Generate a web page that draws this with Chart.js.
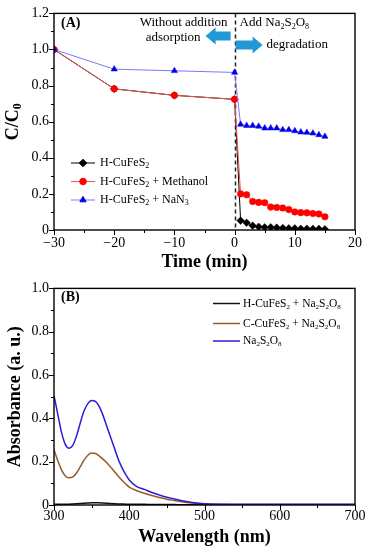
<!DOCTYPE html>
<html>
<head>
<meta charset="utf-8">
<script src="https://cdn.jsdelivr.net/npm/chart.js@4.4.1/dist/chart.umd.min.js"></script>
<style>
  body { margin: 0; background: #fff; }
  #wrap { position: relative; width: 370px; height: 550px; }
  canvas { position: absolute; left: 0; }
  #chartA { top: 0; }
  #chartB { top: 275px; }
</style>
</head>
<body>
<div id="wrap">
  <canvas id="chartA" width="370" height="275"></canvas>
  <canvas id="chartB" width="370" height="275"></canvas>
</div>
<script>
// --- (A) C/C0 vs time ---
const timeA = [-30, -20, -10, 0, 1, 2, 3, 4, 5, 6, 7, 8, 9, 10, 11, 12, 13, 14, 15];
const hCuFeS2 = [1.0, 0.782, 0.746, 0.724, 0.052, 0.040, 0.024, 0.018, 0.015, 0.015, 0.013, 0.011, 0.009, 0.009, 0.007, 0.007, 0.006, 0.006, 0.004];
const hCuFeS2Methanol = [1.0, 0.782, 0.746, 0.724, 0.200, 0.195, 0.158, 0.153, 0.151, 0.127, 0.125, 0.122, 0.113, 0.100, 0.096, 0.095, 0.091, 0.089, 0.073];
const hCuFeS2NaN3 = [1.0, 0.891, 0.882, 0.873, 0.585, 0.578, 0.578, 0.574, 0.564, 0.564, 0.564, 0.555, 0.555, 0.549, 0.542, 0.540, 0.536, 0.527, 0.518];
const labelsA = ['H-CuFeS_2', 'H-CuFeS_2 + Methanol', 'H-CuFeS_2 + NaN_3'];
const xTicksA = [-30, -20, -10, 0, 10, 20];
const yTicksA = [0, 0.2, 0.4, 0.6, 0.8, 1.0, 1.2];

// --- (B) UV-vis spectra ---
const wavelength = [300, 305, 310, 315, 320, 325, 330, 335, 340, 345, 350, 355, 360, 365, 370, 375, 380, 385, 390, 395, 400, 410, 420, 430, 440, 450, 460, 470, 480, 490, 500, 550, 600, 650, 700];
const hCuFeS2Pds = [0.003, 0.003, 0.003, 0.004, 0.004, 0.005, 0.006, 0.007, 0.008, 0.009, 0.010, 0.010, 0.010, 0.009, 0.008, 0.007, 0.006, 0.005, 0.005, 0.004, 0.004, 0.003, 0.003, 0.002, 0.002, 0.002, 0.002, 0.001, 0.001, 0.001, 0.001, 0.001, 0.001, 0.001, 0.001];
const cCuFeS2Pds = [0.255, 0.205, 0.162, 0.134, 0.126, 0.130, 0.148, 0.177, 0.207, 0.230, 0.240, 0.238, 0.227, 0.212, 0.196, 0.176, 0.156, 0.135, 0.115, 0.098, 0.083, 0.066, 0.054, 0.044, 0.035, 0.027, 0.021, 0.015, 0.010, 0.007, 0.004, 0.002, 0.002, 0.002, 0.002];
const pdsOnly = [0.505, 0.420, 0.335, 0.280, 0.262, 0.275, 0.320, 0.380, 0.435, 0.468, 0.482, 0.478, 0.455, 0.415, 0.365, 0.315, 0.265, 0.215, 0.175, 0.142, 0.115, 0.085, 0.072, 0.058, 0.046, 0.036, 0.028, 0.020, 0.014, 0.009, 0.006, 0.004, 0.004, 0.004, 0.004];
const labelsB = ['H-CuFeS_2 + Na_2S_2O_8', 'C-CuFeS_2 + Na_2S_2O_8', 'Na_2S_2O_8'];
const xTicksB = [300, 400, 500, 600, 700];
const yTicksB = [0, 0.2, 0.4, 0.6, 0.8, 1.0];

const FONT = '"Liberation Serif", "Times New Roman", serif';

// texto com subscrito: "_2" vira 2 pequeno
function richText(ctx, str, x, y, size, bold, align) {
    const parts = [];
    let i = 0;
    while (i < str.length) {
        if (str[i] === '_') { parts.push({ t: str[i + 1], sub: true }); i += 2; }
        else {
            let j = i;
            while (j < str.length && str[j] !== '_') j++;
            parts.push({ t: str.slice(i, j), sub: false });
            i = j;
        }
    }
    const fMain = (bold ? 'bold ' : '') + size + 'px ' + FONT;
    const fSub = (bold ? 'bold ' : '') + Math.round(size * 0.65) + 'px ' + FONT;
    let w = 0;
    parts.forEach(p => { ctx.font = p.sub ? fSub : fMain; p.w = ctx.measureText(p.t).width; w += p.w; });
    let cx = align === 'center' ? x - w / 2 : align === 'right' ? x - w : x;
    ctx.textAlign = 'left';
    ctx.textBaseline = 'middle';
    parts.forEach(p => {
        ctx.font = p.sub ? fSub : fMain;
        ctx.fillText(p.t, cx, p.sub ? y + size * 0.28 : y);
        cx += p.w;
    });
}

function rotatedTitle(ctx, str, x, y, size) {
    ctx.save();
    ctx.translate(x, y);
    ctx.rotate(-Math.PI / 2);
    richText(ctx, str, 0, 0, size, true, 'center');
    ctx.restore();
}

// moldura + ticks maiores/menores
function frameTicks(chart, xMinor, yMinor) {
    const { ctx, chartArea: a, scales: { x, y } } = chart;
    ctx.save();
    ctx.strokeStyle = '#000';
    ctx.lineWidth = 1;
    ctx.beginPath();
    const ny = Math.round((y.max - y.min) / yMinor);
    for (let i = 0; i <= ny; i++) {
        const p = Math.round(y.getPixelForValue(y.min + i * yMinor)) + 0.5;
        ctx.moveTo(a.left, p);
        ctx.lineTo(a.left - (i % 2 === 0 ? 5 : 3), p);
    }
    const nx = Math.round((x.max - x.min) / xMinor);
    for (let i = 0; i <= nx; i++) {
        const p = Math.round(x.getPixelForValue(x.min + i * xMinor)) + 0.5;
        ctx.moveTo(p, a.bottom);
        ctx.lineTo(p, a.bottom + (i % 2 === 0 ? 5 : 3));
    }
    ctx.stroke();
    ctx.lineWidth = 1.4;
    ctx.strokeRect(a.left, a.top, a.right - a.left, a.bottom - a.top);
    ctx.restore();
}

function blockArrow(ctx, x1, x2, yc, dir) {
    // dir = -1 aponta para esquerda, 1 para direita
    const tip = dir < 0 ? x1 : x2;
    const tail = dir < 0 ? x2 : x1;
    const base = tip - dir * 10;
    ctx.beginPath();
    ctx.moveTo(tail, yc - 4.5);
    ctx.lineTo(base, yc - 4.5);
    ctx.lineTo(base, yc - 8.5);
    ctx.lineTo(tip, yc);
    ctx.lineTo(base, yc + 8.5);
    ctx.lineTo(base, yc + 4.5);
    ctx.lineTo(tail, yc + 4.5);
    ctx.closePath();
    ctx.fill();
}

const tickFont = { family: FONT, size: 14 };
const fmtY = v => v === 0 ? '0' : v.toFixed(1);

function baseScales(xMin, xMax, yMin, yMax, xTicks, yTicks, xPad, fmtX) {
    return {
        x: {
            type: 'linear', min: xMin, max: xMax,
            grid: { display: false, drawTicks: false },
            border: { display: false },
            afterBuildTicks: s => { s.ticks = xTicks.map(v => ({ value: v })); },
            afterFit: s => { s.height = 45; },
            ticks: { font: tickFont, color: '#000', padding: xPad, maxRotation: 0, callback: fmtX }
        },
        y: {
            min: yMin, max: yMax,
            grid: { display: false, drawTicks: false },
            border: { display: false },
            afterBuildTicks: s => { s.ticks = yTicks.map(v => ({ value: v })); },
            afterFit: s => { s.width = 54; },
            ticks: { font: tickFont, color: '#000', padding: 5, callback: fmtY }
        }
    };
}

// ---------------- Panel A ----------------
const stylesA = [
    { line: '#000000', fill: '#000000', style: 'rectRot', r: 3.8, order: 3 },
    { line: 'rgb(235,85,85)', fill: '#ff0000', style: 'circle', r: 3.3, order: 2 },
    { line: 'rgb(120,120,255)', fill: '#0000e6', style: 'triangle', r: 3.6, order: 1 }
];
const seriesA = [hCuFeS2, hCuFeS2Methanol, hCuFeS2NaN3];

const decorA = {
    id: 'decorA',
    beforeDatasetsDraw(chart) {
        const { ctx, chartArea: a, scales: { x } } = chart;
        const x0 = Math.round(x.getPixelForValue(0)) + 0.5;
        ctx.save();
        ctx.strokeStyle = '#222';
        ctx.lineWidth = 1.5;
        ctx.setLineDash([4, 3]);
        ctx.beginPath();
        ctx.moveTo(x0, a.top);
        ctx.lineTo(x0, a.bottom);
        ctx.stroke();
        ctx.restore();
    },
    afterDraw(chart) {
        const { ctx, chartArea: a, scales: { x } } = chart;
        frameTicks(chart, 5, 0.1);
        const x0 = x.getPixelForValue(0);
        ctx.save();
        ctx.fillStyle = '#000';
        richText(ctx, '(A)', a.left + 7, 23, 14, true, 'left');
        richText(ctx, 'Without addition', x0 - 7, 23, 13, false, 'right');
        richText(ctx, 'adsorption', x0 - 34, 38, 13, false, 'right');
        richText(ctx, 'Add Na_2S_2O_8', x0 + 5, 23, 13, false, 'left');
        richText(ctx, 'degradation', x0 + 32, 45, 13, false, 'left');
        ctx.fillStyle = '#2199d4';
        blockArrow(ctx, x0 - 29, x0 - 4, 36, -1);
        blockArrow(ctx, x0 + 1, x0 + 28, 45, 1);

        // legenda
        const rows = [163, 181.5, 200];
        labelsA.forEach((lab, i) => {
            const st = stylesA[i];
            ctx.strokeStyle = st.line;
            ctx.lineWidth = 1;
            ctx.beginPath();
            ctx.moveTo(71, rows[i]);
            ctx.lineTo(95, rows[i]);
            ctx.stroke();
            ctx.fillStyle = st.fill;
            ctx.strokeStyle = st.fill;
            Chart.helpers.drawPoint(ctx, { pointStyle: st.style, radius: st.r, rotation: 0, borderWidth: 0.5 }, 83, rows[i]);
            ctx.fillStyle = '#000';
            richText(ctx, lab, 100, rows[i], 12, false, 'left');
        });

        ctx.fillStyle = '#000';
        richText(ctx, 'Time (min)', (a.left + a.right) / 2, 262, 18, true, 'center');
        rotatedTitle(ctx, 'C/C_0', 13, (a.top + a.bottom) / 2, 18);
        ctx.restore();
    }
};

new Chart(document.getElementById('chartA').getContext('2d'), {
    type: 'line',
    data: {
        datasets: seriesA.map((vals, i) => ({
            label: labelsA[i].replace(/_/g, ''),
            data: timeA.map((t, k) => ({ x: t, y: vals[k] })),
            borderColor: stylesA[i].line,
            borderWidth: 1,
            pointStyle: stylesA[i].style,
            pointRadius: stylesA[i].r,
            pointBackgroundColor: stylesA[i].fill,
            pointBorderColor: stylesA[i].fill,
            pointBorderWidth: 0.5,
            order: stylesA[i].order,
            tension: 0
        }))
    },
    options: {
        responsive: false,
        animation: false,
        layout: { padding: { left: 0, right: 15, top: 10, bottom: 0 } },
        plugins: { legend: { display: false }, tooltip: { enabled: false } },
        scales: baseScales(-30, 20, 0, 1.2, xTicksA, yTicksA, 5,
            v => v < 0 ? '\u2212' + Math.abs(v) : String(v))
    },
    plugins: [decorA]
});

// ---------------- Panel B ----------------
const colorsB = ['#111111', 'rgb(150,92,40)', 'rgb(40,30,215)'];
const seriesB = [hCuFeS2Pds, cCuFeS2Pds, pdsOnly];

const decorB = {
    id: 'decorB',
    afterDraw(chart) {
        const { ctx, chartArea: a } = chart;
        frameTicks(chart, 50, 0.1);
        ctx.save();
        ctx.fillStyle = '#000';
        richText(ctx, '(B)', a.left + 7, 22, 14, true, 'left');
        const rows = [28.5, 48.5, 66];
        labelsB.forEach((lab, i) => {
            ctx.strokeStyle = colorsB[i];
            ctx.lineWidth = 1.5;
            ctx.beginPath();
            ctx.moveTo(213, rows[i]);
            ctx.lineTo(240, rows[i]);
            ctx.stroke();
            ctx.fillStyle = '#000';
            richText(ctx, lab, 243, rows[i], 11.5, false, 'left');
        });
        richText(ctx, 'Wavelength (nm)', (a.left + a.right) / 2, 262, 18, true, 'center');
        rotatedTitle(ctx, 'Absorbance (a. u.)', 15, (a.top + a.bottom) / 2, 18);
        ctx.restore();
    }
};

new Chart(document.getElementById('chartB').getContext('2d'), {
    type: 'line',
    data: {
        datasets: seriesB.map((vals, i) => ({
            label: labelsB[i].replace(/_/g, ''),
            data: wavelength.map((w, k) => ({ x: w, y: vals[k] })),
            borderColor: colorsB[i],
            borderWidth: 1.5,
            pointRadius: 0,
            cubicInterpolationMode: 'monotone',
            order: 3 - i
        }))
    },
    options: {
        responsive: false,
        animation: false,
        layout: { padding: { left: 0, right: 15, top: 9, bottom: 0 } },
        plugins: { legend: { display: false }, tooltip: { enabled: false } },
        scales: baseScales(300, 700, 0, 1.0, xTicksB, yTicksB, 3, v => String(v))
    },
    plugins: [decorB]
});
</script>
</body>
</html>
